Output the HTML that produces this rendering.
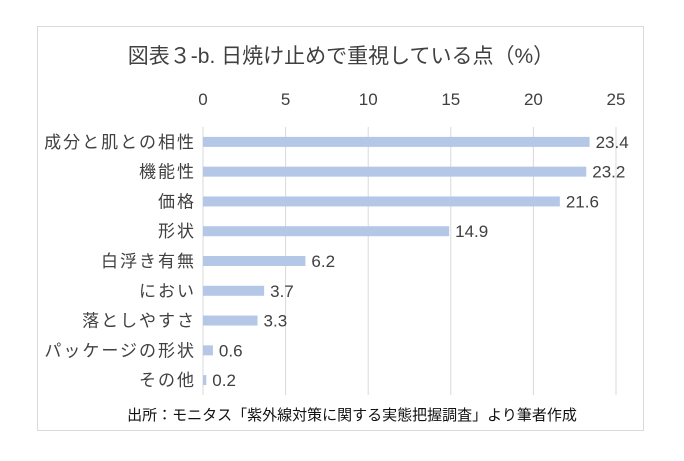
<!DOCTYPE html>
<html><head><meta charset="utf-8"><style>
body{margin:0;background:#fff;width:684px;height:456px;overflow:hidden}
text{font-family:"Liberation Sans","Noto Sans CJK JP",sans-serif;fill:#404040}
</style></head><body>
<svg width="684" height="456">
<rect x="37.5" y="26.5" width="606" height="404" fill="#fff" stroke="#d9d9d9"/>
<text x="341" y="63" font-size="21" text-anchor="middle">図表３-b. 日焼け止めで重視している点（%）</text>
<g id="grid"></g><g id="bars"></g>
<text x="352" y="420" font-size="15" text-anchor="middle" style="fill:#111">出所：モニタス「紫外線対策に関する実態把握調査」より筆者作成</text>
</svg>
<script>
const categories=["成分と肌との相性","機能性","価格","形状","白浮き有無","におい","落としやすさ","パッケージの形状","その他"];
const values=[23.4,23.2,21.6,14.9,6.2,3.7,3.3,0.6,0.2];
const ticks=[0,5,10,15,20,25];
const ns="http://www.w3.org/2000/svg";
const x0=203,x1=616,vmax=25,plotTop=127,plotBottom=395;
const xs=v=>x0+(x1-x0)*v/vmax;
const band=(plotBottom-plotTop)/categories.length;
function mk(t,a,p){const e=document.createElementNS(ns,t);for(const k in a)e.setAttribute(k,a[k]);p.appendChild(e);return e;}
const g=document.getElementById('grid'),b=document.getElementById('bars');
ticks.forEach(t=>{
 const l=mk('line',{x1:xs(t),x2:xs(t),y1:plotTop,y2:plotBottom,stroke:'#d9d9d9'},g);
 
 
 const tx=mk('text',{x:xs(t),y:105,'font-size':17,'text-anchor':'middle'},g);tx.textContent=t;
 
 
});
categories.forEach((c,i)=>{
 const cy=plotTop+band*(i+0.5);
 const r=mk('rect',{x:x0,y:cy-5,width:xs(values[i])-x0,height:10,fill:'#b4c7e7'},b);
 
 
 const lb=mk('text',{x:196,y:cy+6,'font-size':17,'text-anchor':'end','letter-spacing':'2'},b);lb.textContent=c;
 
 
 const vl=mk('text',{x:xs(values[i])+6,y:cy+6,'font-size':17},b);vl.textContent=values[i].toFixed(1);
 
 
});
</script>
</body></html>
